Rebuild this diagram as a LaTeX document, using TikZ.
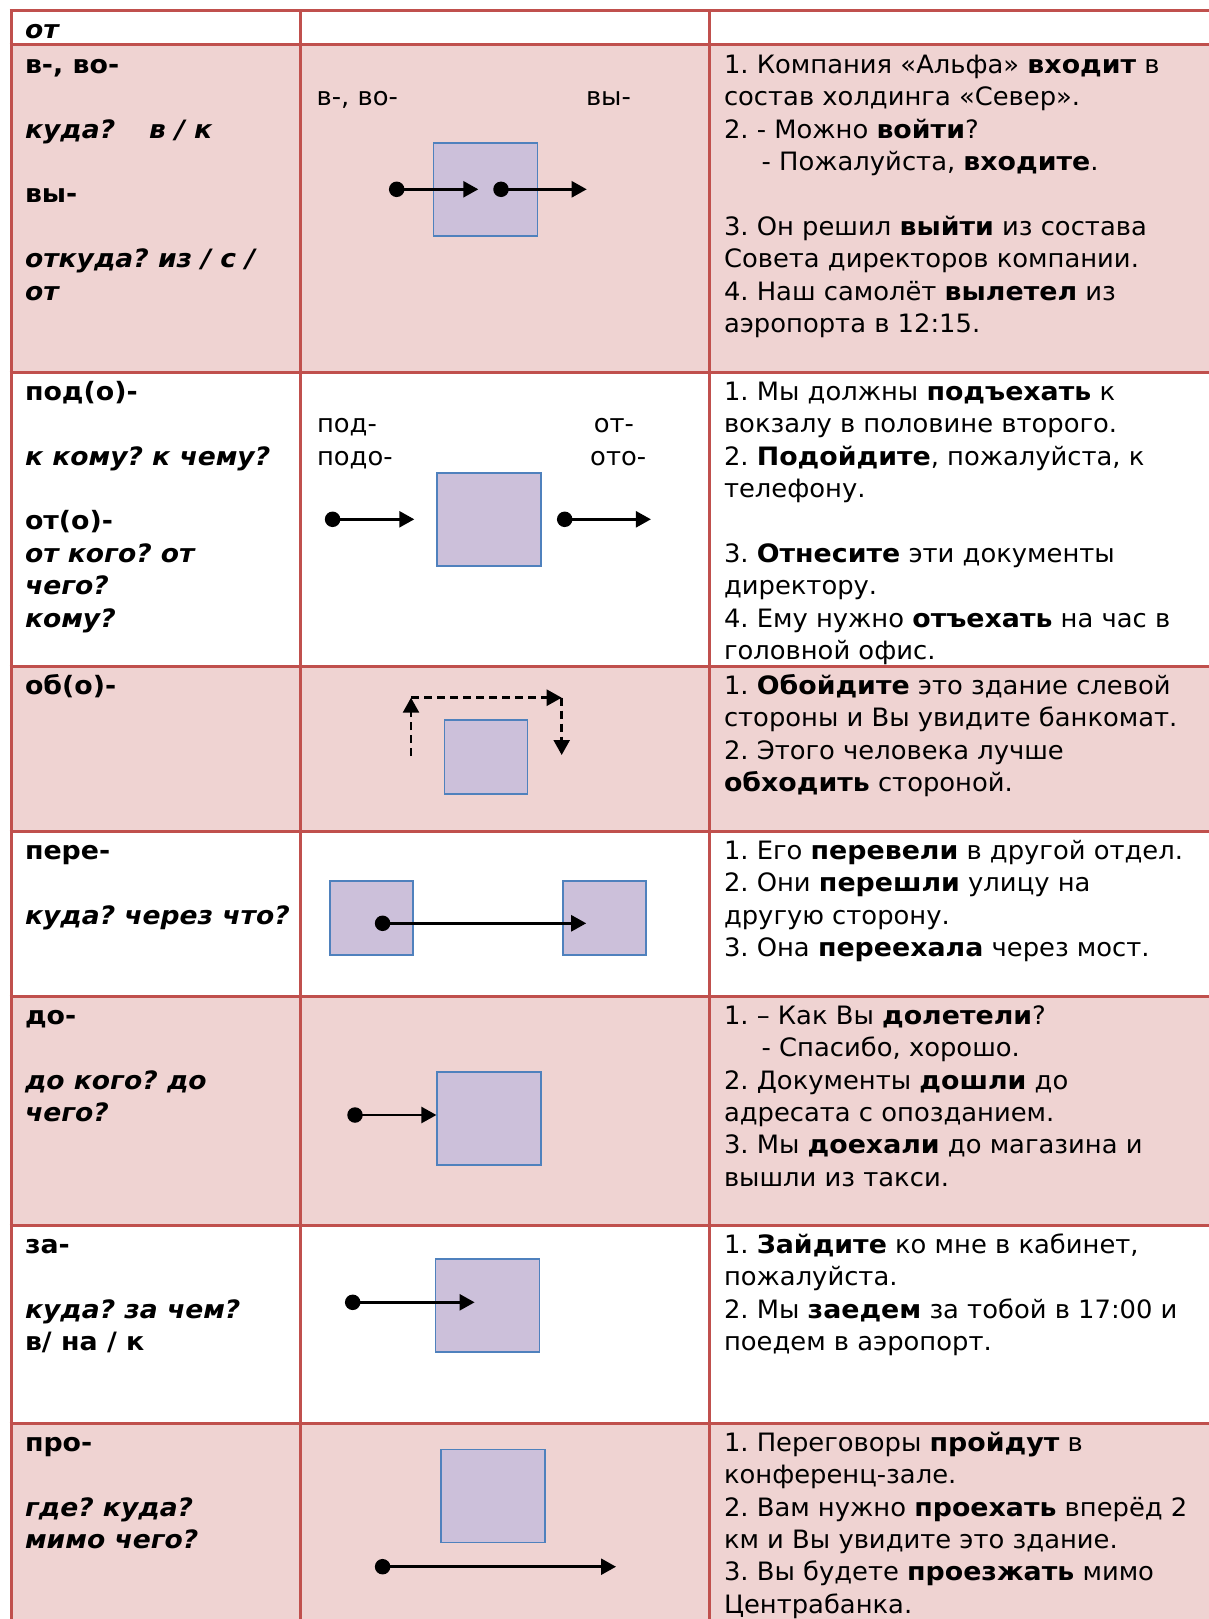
\documentclass[tikz,border=0pt]{standalone}
\usepackage{fontspec}
\setmainfont{DejaVu Sans}[UprightFeatures={FakeStretch=1.02}, ItalicFeatures={FakeStretch=1.02}, BoldFeatures={FakeStretch=1.06}, BoldItalicFeatures={FakeStretch=1.05}]
\usetikzlibrary{arrows.meta}
\definecolor{tblred}{HTML}{C0504D}
\definecolor{rowpink}{HTML}{EFD3D2}
\definecolor{sqfill}{HTML}{CCC0DA}
\definecolor{sqline}{HTML}{4F81BD}
\newcommand\myfs{\fontsize{25.3}{32.4}\selectfont\frenchspacing}
\begin{document}
\begin{tikzpicture}[x=1pt,y=-1pt,
  txt/.style={anchor=base west, inner sep=0pt, outer sep=0pt, font=\myfs},
  lb/.style={txt, font=\myfs\bfseries},
  lq/.style={txt, font=\myfs\bfseries\itshape},
  sqbig/.style={draw=sqline, fill=sqfill, line width=1.6pt, minimum width=104pt, minimum height=93pt, inner sep=0pt},
  sqsmall/.style={draw=sqline, fill=sqfill, line width=1.6pt, minimum width=83pt, minimum height=74pt, inner sep=0pt},
  dot/.style={circle, fill=black, inner sep=0pt, minimum size=15.5pt},
  arr/.style={line width=2.5pt, -{Triangle[length=15pt,width=16pt]}},
  darr/.style={arr, dash pattern=on 8pt off 5pt},
  grid/.style={draw=tblred, line width=3pt}]
\useasboundingbox (0,0) rectangle (1209,1619);
\fill[white] (0,0) rectangle (1209,1619);
% row fills
\fill[rowpink] (11,45) rectangle (1209,372);
\fill[rowpink] (11,666) rectangle (1209,831);
\fill[rowpink] (11,996) rectangle (1209,1225);
\fill[rowpink] (11,1423) rectangle (1209,1619);
% grid
\foreach \yy in {11,45,372,666,831,996,1225,1423}
  \draw[grid] (9.5,\yy) -- (1209,\yy);
\foreach \xx in {11,300,709}
  \draw[grid] (\xx,9.5) -- (\xx,1619);

% ---------- row 1
\node[lq] (h1) at (25,38) {от};

% ---------- row 2
\node[lb] (l2a) at (25,73.3) {в-, во-};
\node[lq] (l2b) at (25,138.1) {\makebox[124pt][l]{куда?}в / к};
\node[lb] (l2c) at (25,202.9) {вы-};
\node[lq] (l2d) at (25,267.7) {откуда? из / с /};
\node[lq] (l2e) at (25,300.1) {от};

\node[txt] (m2a) at (316.7,105.7) {в-, во-};
\node[txt] (m2b) at (586,105.7) {вы-};
\node[sqbig] (s2) at (485.3,189.7) {};
\node[dot] (d2a) at (396.7,189.3) {};
\coordinate (t2a) at (478.3,189.3);
\node[dot] (d2b) at (501,189.3) {};
\coordinate (t2b) at (586.7,189.3);
\draw[arr] (d2a.center) -- (t2a);
\draw[arr] (d2b.center) -- (t2b);

\node[txt] (r2a) at (724,73.3) {1. Компания «Альфа» \textbf{входит} в};
\node[txt] (r2b) at (724,105.7) {состав холдинга «Север».};
\node[txt] (r2c) at (724,138.1) {2. - Можно \textbf{войти}?};
\node[txt] (r2d) at (761.7,170.5) {- Пожалуйста, \textbf{входите}.};
\node[txt] (r2e) at (724,235.3) {3. Он решил \textbf{выйти} из состава};
\node[txt] (r2f) at (724,267.7) {Совета директоров компании.};
\node[txt] (r2g) at (724,300.1) {4. Наш самолёт \textbf{вылетел} из};
\node[txt] (r2h) at (724,332.5) {аэропорта в 12:15.};

% ---------- row 3
\node[lb] (l3a) at (25,400.3) {под(о)-};
\node[lq] (l3b) at (25,465.1) {к кому? к чему?};
\node[lb] (l3c) at (25,529.9) {от(о)-};
\node[lq] (l3d) at (25,562.3) {от кого? от};
\node[lq] (l3e) at (25,594.7) {чего?};
\node[lq] (l3f) at (25,627.1) {кому?};

\node[txt] (m3a) at (317,432.7) {под-};
\node[txt] (m3b) at (317,465.1) {подо-};
\node[txt] (m3c) at (593.8,432.7) {от-};
\node[txt] (m3d) at (590.2,465.1) {ото-};
\node[sqbig] (s3) at (489.2,519.2) {};
\node[dot] (d3a) at (332.6,519.3) {};
\coordinate (t3a) at (414.3,519.3);
\node[dot] (d3b) at (564.7,519.3) {};
\coordinate (t3b) at (650.9,519.3);
\draw[arr] (d3a.center) -- (t3a);
\draw[arr] (d3b.center) -- (t3b);

\node[txt] (r3a) at (724,400.3) {1. Мы должны \textbf{подъехать} к};
\node[txt] (r3b) at (724,432.7) {вокзалу в половине второго.};
\node[txt] (r3c) at (724,465.1) {2. \textbf{Подойдите}, пожалуйста, к};
\node[txt] (r3d) at (724,497.5) {телефону.};
\node[txt] (r3e) at (724,562.3) {3. \textbf{Отнесите} эти документы};
\node[txt] (r3f) at (724,594.7) {директору.};
\node[txt] (r3g) at (724,627.1) {4. Ему нужно \textbf{отъехать} на час в};
\node[txt] (r3h) at (724,659.5) {головной офис.};

% ---------- row 4
\node[lb] (l4a) at (25,694.3) {об(о)-};
\node[sqsmall] (s4) at (485.8,757) {};
\coordinate (c4a) at (411,756);
\coordinate (c4b) at (411,697.7);
\coordinate (c4c) at (561.7,697.7);
\coordinate (c4d) at (561.7,755);
\draw[darr] (c4a) -- (c4b);
\draw[darr] (c4b) -- (c4c);
\draw[darr] (c4c) -- (c4d);

\node[txt] (r4a) at (724,694.3) {1. \textbf{Обойдите} это здание слевой};
\node[txt] (r4b) at (724,726.7) {стороны и Вы увидите банкомат.};
\node[txt] (r4c) at (724,759.1) {2. Этого человека лучше};
\node[txt] (r4d) at (724,791.5) {\textbf{обходить} стороной.};

% ---------- row 5
\node[lb] (l5a) at (25,859.3) {пере-};
\node[lq] (l5b) at (25,924.1) {куда? через что?};
\node[sqsmall] (s5a) at (371.7,918) {};
\node[sqsmall] (s5b) at (604.7,918) {};
\node[dot] (d5) at (382.6,923.3) {};
\coordinate (t5) at (586.2,923.3);
\draw[arr] (d5.center) -- (t5);

\node[txt] (r5a) at (724,859.3) {1. Его \textbf{перевели} в другой отдел.};
\node[txt] (r5b) at (724,891.7) {2. Они \textbf{перешли} улицу на};
\node[txt] (r5c) at (724,924.1) {другую сторону.};
\node[txt] (r5d) at (724,956.5) {3. Она \textbf{переехала} через мост.};

% ---------- row 6
\node[lb] (l6a) at (25,1024.3) {до-};
\node[lq] (l6b) at (25,1089.1) {до кого? до};
\node[lq] (l6c) at (25,1121.5) {чего?};
\node[sqbig] (s6) at (489.2,1118.3) {};
\node[dot] (d6) at (355,1115) {};
\draw[arr] (d6.center) -- (s6.west |- d6.center);

\node[txt] (r6a) at (724,1024.3) {1. – Как Вы \textbf{долетели}?};
\node[txt] (r6b) at (761.7,1056.7) {- Спасибо, хорошо.};
\node[txt] (r6c) at (724,1089.1) {2. Документы \textbf{дошли} до};
\node[txt] (r6d) at (724,1121.5) {адресата с опозданием.};
\node[txt] (r6e) at (724,1153.9) {3. Мы \textbf{доехали} до магазина и};
\node[txt] (r6f) at (724,1186.3) {вышли из такси.};

% ---------- row 7
\node[lb] (l7a) at (25,1253.3) {за-};
\node[lq] (l7b) at (25,1318.1) {куда? за чем?};
\node[lb] (l7c) at (25,1350.5) {в/ на / к};
\node[sqbig] (s7) at (487.5,1305.5) {};
\node[dot] (d7) at (352.7,1302.3) {};
\coordinate (t7) at (474.6,1302.3);
\draw[arr] (d7.center) -- (t7);

\node[txt] (r7a) at (724,1253.3) {1. \textbf{Зайдите} ко мне в кабинет,};
\node[txt] (r7b) at (724,1285.7) {пожалуйста.};
\node[txt] (r7c) at (724,1318.1) {2. Мы \textbf{заедем} за тобой в 17:00 и};
\node[txt] (r7d) at (724,1350.5) {поедем в аэропорт.};

% ---------- row 8
\node[lb] (l8a) at (25,1451.3) {про-};
\node[lq] (l8b) at (25,1516.1) {где? куда?};
\node[lq] (l8c) at (25,1548.5) {мимо чего?};
\node[sqbig] (s8) at (493.2,1495.8) {};
\node[dot] (d8) at (382.6,1566.7) {};
\coordinate (t8) at (616,1566.7);
\draw[arr] (d8.center) -- (t8);

\node[txt] (r8a) at (724,1451.3) {1. Переговоры \textbf{пройдут} в};
\node[txt] (r8b) at (724,1483.7) {конференц-зале.};
\node[txt] (r8c) at (724,1516.1) {2. Вам нужно \textbf{проехать} вперёд 2};
\node[txt] (r8d) at (724,1548.5) {км и Вы увидите это здание.};
\node[txt] (r8e) at (724,1580.9) {3. Вы будете \textbf{проезжать} мимо};
\node[txt] (r8f) at (724,1613.3) {Центрабанка.};
\end{tikzpicture}
\end{document}
